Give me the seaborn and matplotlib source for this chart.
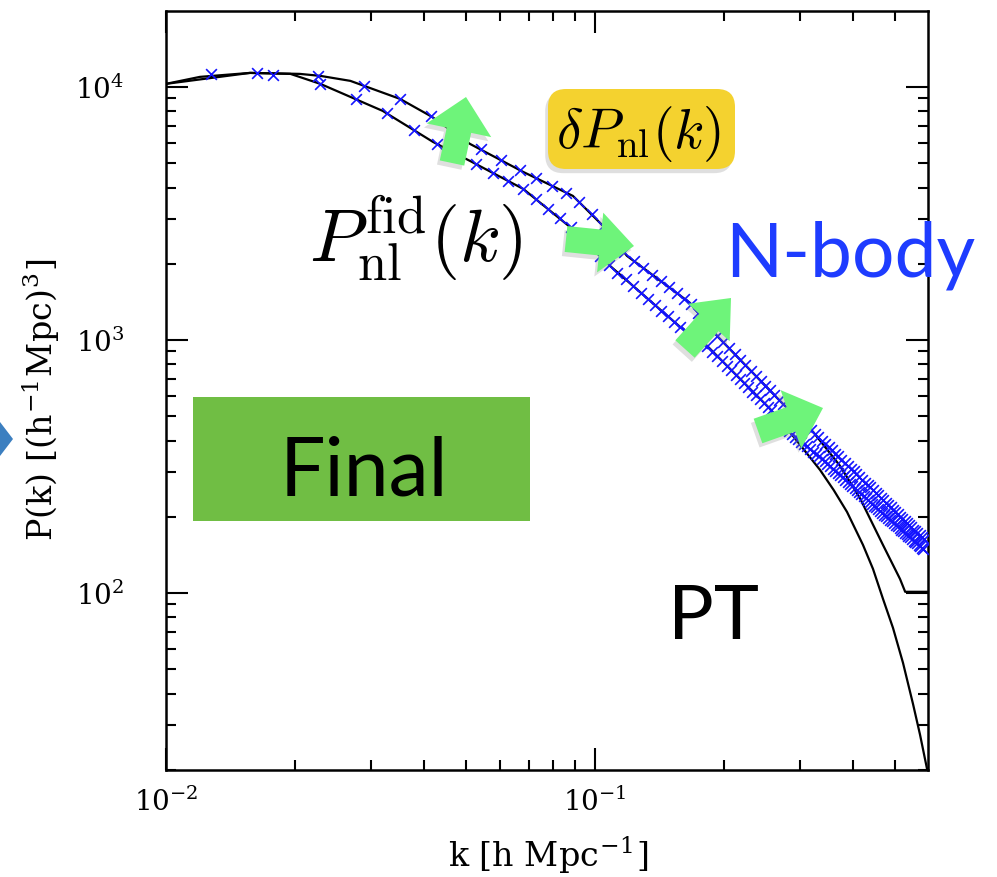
import matplotlib
matplotlib.use("Agg")
import matplotlib.pyplot as plt
import seaborn as sns
import pandas as pd
import matplotlib.patheffects as pe
from matplotlib.patches import FancyArrow, FancyBboxPatch, Rectangle, Polygon
from matplotlib.transforms import IdentityTransform

# ---------------- data ----------------
# black PT curves
k_pt_a = [0.0100, 0.0120, 0.0157, 0.0205, 0.0229, 0.0269, 0.0351, 0.0417, 0.0511, 0.0680,
          0.0888, 0.1044, 0.1187, 0.1665, 0.1925, 0.2743, 0.3223, 0.3724, 0.4150, 0.4688,
          0.5140, 0.5284, 0.5973]
p_pt_a = [10280, 10955, 11357, 11256, 11054, 10562, 8967, 7612, 5953, 4613,
          3708, 2822, 2148, 1400, 1037, 558, 433, 318, 236, 155,
          113.5, 101, 101]

k_pt_b = [0.0100, 0.0157, 0.0195, 0.0229, 0.0320, 0.0419, 0.0511, 0.0680, 0.0874, 0.1084,
          0.1578, 0.1825, 0.2558, 0.2893, 0.3345, 0.3600, 0.3867, 0.4213, 0.4446, 0.4691,
          0.4950, 0.5223, 0.5511, 0.5723, 0.5942]
p_pt_b = [10280, 11357, 11256, 10277, 8036, 6062, 5099, 3953, 2796, 1961,
          1126, 947, 534, 417.5, 306.4, 255.0, 209.0, 154.8, 124.4, 94.7,
          72.7, 52.9, 36.4, 27.5, 20.15]

# N-body measurements (blue crosses), two runs
k_nb_a = [0.0127, 0.0163, 0.0226, 0.0289, 0.0352, 0.0415, 0.0478, 0.0541, 0.0604, 0.0667,
          0.0730, 0.0793, 0.0856, 0.0919, 0.0982, 0.1045, 0.1108, 0.1171, 0.1234, 0.1297,
          0.1360, 0.1423, 0.1486, 0.1549, 0.1612, 0.1675, 0.1738, 0.1801, 0.1864, 0.1927,
          0.1990, 0.2053, 0.2116, 0.2179, 0.2242, 0.2305, 0.2368, 0.2431, 0.2494, 0.2557,
          0.2620, 0.2683, 0.2746, 0.2809, 0.2872, 0.2935, 0.2998, 0.3061, 0.3124, 0.3187,
          0.3250, 0.3313, 0.3376, 0.3439, 0.3502, 0.3565, 0.3628, 0.3691, 0.3754, 0.3817,
          0.3880, 0.3943, 0.4006, 0.4069, 0.4132, 0.4195, 0.4258, 0.4321, 0.4384, 0.4447,
          0.4510, 0.4573, 0.4636, 0.4699, 0.4762, 0.4825, 0.4888, 0.4951, 0.5014, 0.5077,
          0.5140, 0.5203, 0.5266, 0.5329, 0.5392, 0.5455, 0.5518, 0.5581, 0.5644, 0.5707,
          0.5770, 0.5833]
p_nb_a = [11200, 11350, 11070, 10100, 8950, 7640, 6460, 5665, 5130, 4690,
          4350, 4066, 3820, 3507, 3135, 2825, 2495, 2218, 2046, 1919,
          1807, 1706, 1614, 1531, 1455, 1384, 1276, 1186, 1106, 1038,
          977, 925, 878, 834, 794, 756, 722, 689, 659, 631,
          604, 580, 558, 538, 519, 501, 484, 469, 454, 440,
          426, 413, 400, 388, 377, 366, 355, 346, 336, 327,
          318, 310, 302, 294, 287, 280, 273, 267, 261, 254,
          249, 243, 238, 232, 227, 223, 218, 213, 209, 205,
          200, 196, 193, 189, 185, 182, 178, 175, 172, 169,
          166, 163]

k_nb_b = [0.0178, 0.0228, 0.0278, 0.0328, 0.0378, 0.0428, 0.0478, 0.0528, 0.0578, 0.0628,
          0.0678, 0.0728, 0.0778, 0.0828, 0.0878, 0.0928, 0.0978, 0.1028, 0.1078, 0.1128,
          0.1178, 0.1228, 0.1278, 0.1328, 0.1378, 0.1428, 0.1478, 0.1528, 0.1578, 0.1628,
          0.1678, 0.1728, 0.1778, 0.1828, 0.1878, 0.1928, 0.1978, 0.2028, 0.2078, 0.2128,
          0.2178, 0.2228, 0.2278, 0.2328, 0.2378, 0.2428, 0.2478, 0.2528, 0.2578, 0.2628,
          0.2678, 0.2728, 0.2778, 0.2828, 0.2878, 0.2928, 0.2978, 0.3028, 0.3078, 0.3128,
          0.3178, 0.3228, 0.3278, 0.3328, 0.3378, 0.3428, 0.3478, 0.3528, 0.3578, 0.3628,
          0.3678, 0.3728, 0.3778, 0.3828, 0.3878, 0.3928, 0.3978, 0.4028, 0.4078, 0.4128,
          0.4178, 0.4228, 0.4278, 0.4328, 0.4378, 0.4428, 0.4478, 0.4528, 0.4578, 0.4628,
          0.4678, 0.4728, 0.4778, 0.4828, 0.4878, 0.4928, 0.4978, 0.5028, 0.5078, 0.5128,
          0.5178, 0.5228, 0.5278, 0.5328, 0.5378, 0.5428, 0.5478, 0.5528, 0.5578, 0.5628,
          0.5678, 0.5728, 0.5778, 0.5828]
p_nb_b = [11100, 10300, 8920, 7850, 6760, 5955, 5420, 4965, 4570, 4245,
          3960, 3597, 3289, 3020, 2786, 2541, 2324, 2136, 1977, 1845,
          1733, 1630, 1536, 1452, 1374, 1304, 1239, 1178, 1125, 1084,
          1045, 1009, 975, 944, 899, 861, 824, 790, 759, 728,
          700, 674, 649, 625, 604, 582, 563, 545, 526, 506,
          488, 470, 454, 438, 424, 412, 404, 395, 387, 380,
          370, 362, 354, 346, 338, 331, 324, 317, 310, 303,
          297, 292, 286, 280, 275, 269, 264, 259, 255, 250,
          245, 241, 237, 233, 229, 225, 221, 218, 214, 211,
          207, 204, 201, 198, 195, 192, 189, 186, 183, 181,
          178, 175, 173, 171, 168, 166, 164, 161, 159, 157,
          155, 153, 151, 149]

x_ticks = [0.01, 0.1]
x_ticklabels = [r"$\mathregular{10^{-2}}$", r"$\mathregular{10^{-1}}$"]
y_ticks = [100, 1000, 10000]
y_ticklabels = [r"$\mathregular{10^{2}}$", r"$\mathregular{10^{3}}$", r"$\mathregular{10^{4}}$"]

# ---------------- style ----------------
sns.set_style("ticks")
plt.rcParams["font.family"] = ["DejaVu Serif"]
plt.rcParams["mathtext.fontset"] = "cm"
for key in ["text.color", "axes.labelcolor", "xtick.color", "ytick.color", "axes.edgecolor"]:
    plt.rcParams[key] = "black"

W, H = 997, 878
fig = plt.figure(figsize=(W / 100, H / 100), dpi=100)
ax = fig.add_axes([166 / W, 1 - 771 / H, (928 - 166) / W, (771 - 12) / H])
ax.set_xscale("log")
ax.set_yscale("log")

df_a = pd.DataFrame({"k": k_pt_a, "P": p_pt_a})
df_b = pd.DataFrame({"k": k_pt_b, "P": p_pt_b})
sns.lineplot(data=df_a, x="k", y="P", ax=ax, color="black", lw=1.6, sort=False, estimator=None, zorder=2)
sns.lineplot(data=df_b, x="k", y="P", ax=ax, color="black", lw=1.6, sort=False, estimator=None, zorder=2)

sns.scatterplot(x=k_nb_a, y=p_nb_a, ax=ax, marker="x", color="#1414ff", s=60, linewidth=1.2, zorder=3)
sns.scatterplot(x=k_nb_b, y=p_nb_b, ax=ax, marker="x", color="#1414ff", s=60, linewidth=1.2, zorder=3)

ax.set_xlim(0.01, 0.5973)
ax.set_ylim(19.95, 19950)

ax.set_xticks(x_ticks)
ax.set_xticklabels(x_ticklabels)
ax.set_yticks(y_ticks)
ax.set_yticklabels(y_ticklabels)
ax.xaxis.set_minor_locator(matplotlib.ticker.LogLocator(base=10, subs=range(2, 10), numticks=20))
ax.yaxis.set_minor_locator(matplotlib.ticker.LogLocator(base=10, subs=range(2, 10), numticks=20))
ax.xaxis.set_minor_formatter(matplotlib.ticker.NullFormatter())
ax.yaxis.set_minor_formatter(matplotlib.ticker.NullFormatter())
ax.tick_params(which="both", direction="in", top=True, right=True, width=1.5, colors="black")
ax.tick_params(which="major", length=16, labelsize=20)
ax.tick_params(which="minor", length=7.5)
ax.tick_params(axis="x", which="major", pad=12)
ax.tick_params(axis="y", which="major", pad=30)
for s in ax.spines.values():
    s.set_linewidth(1.8)
    s.set_color("black")

ax.set_xlabel(r"k [h Mpc$^{\mathregular{-1}}$]", fontsize=24, va="center")
ax.xaxis.set_label_coords(0.501, -0.111)
ax.set_ylabel(r"P(k) [(h$^{\mathregular{-1}}$Mpc)$^{\mathregular{3}}$]", fontsize=24, va="center")
ax.yaxis.set_label_coords(-0.163, 0.489)

# ---------------- overlay decorations (pixel coordinates) ----------------
T = IdentityTransform()
def Y(y):
    return H - y

shadow = [pe.withSimplePatchShadow(offset=(-2, -3), shadow_rgbFace="gray", alpha=0.25)]

# green "Final" box
fig.add_artist(Rectangle((193, Y(522)), 337, 124, transform=T, facecolor="#70BE44", edgecolor="none", zorder=4))
fig.text(364 / W, 1 - 495 / H, "Final", fontsize=58, family="Lato", color="black",
         ha="center", va="baseline", zorder=5)

# yellow label box
box = FancyBboxPatch((548, Y(170)), 187, 80, boxstyle="round,pad=0,rounding_size=18", transform=T,
                     facecolor="#F4D22F", edgecolor="none", zorder=4, path_effects=shadow)
fig.add_artist(box)
fig.text(638 / W, 1 - 148 / H, r"$\delta P_{\rm nl}(k)$", fontsize=40, color="black",
         ha="center", va="baseline", zorder=5)

fig.text(415 / W, 1 - 263 / H, r"$P_{\rm nl}^{\rm fid}(k)$", fontsize=54, color="black",
         ha="center", va="baseline", zorder=5)
fig.text(725 / W, 1 - 276 / H, "N-body", fontsize=54, family="Lato", color="#1E3CFF",
         ha="left", va="baseline", zorder=5)
fig.text(668 / W, 1 - 639 / H, "PT", fontsize=55, family="Lato", color="black",
         ha="left", va="baseline", zorder=5)

# green arrows
arrows = [((452, 164), (466, 98), 25, 66, 34),
          ((566, 240), (634, 247), 26, 60, 34),
          ((685, 350), (731, 299), 26, 56, 33),
          ((758, 432), (823, 409), 26, 62, 34)]
for (x0, y0), (x1, y1), w, hw, hl in arrows:
    a = FancyArrow(x0, Y(y0), x1 - x0, -(y1 - y0), width=w, head_width=hw, head_length=hl,
                   length_includes_head=True, transform=T, facecolor="#6EF47A", edgecolor="none",
                   zorder=4, path_effects=shadow)
    fig.add_artist(a)

# clipped blue arrow tip at left edge
fig.add_artist(Polygon([(0, Y(423)), (13, Y(440)), (0, Y(457))], closed=True, transform=T,
                       facecolor="#3C7FC0", edgecolor="none", zorder=4))

fig.savefig("out.png", dpi=100)
